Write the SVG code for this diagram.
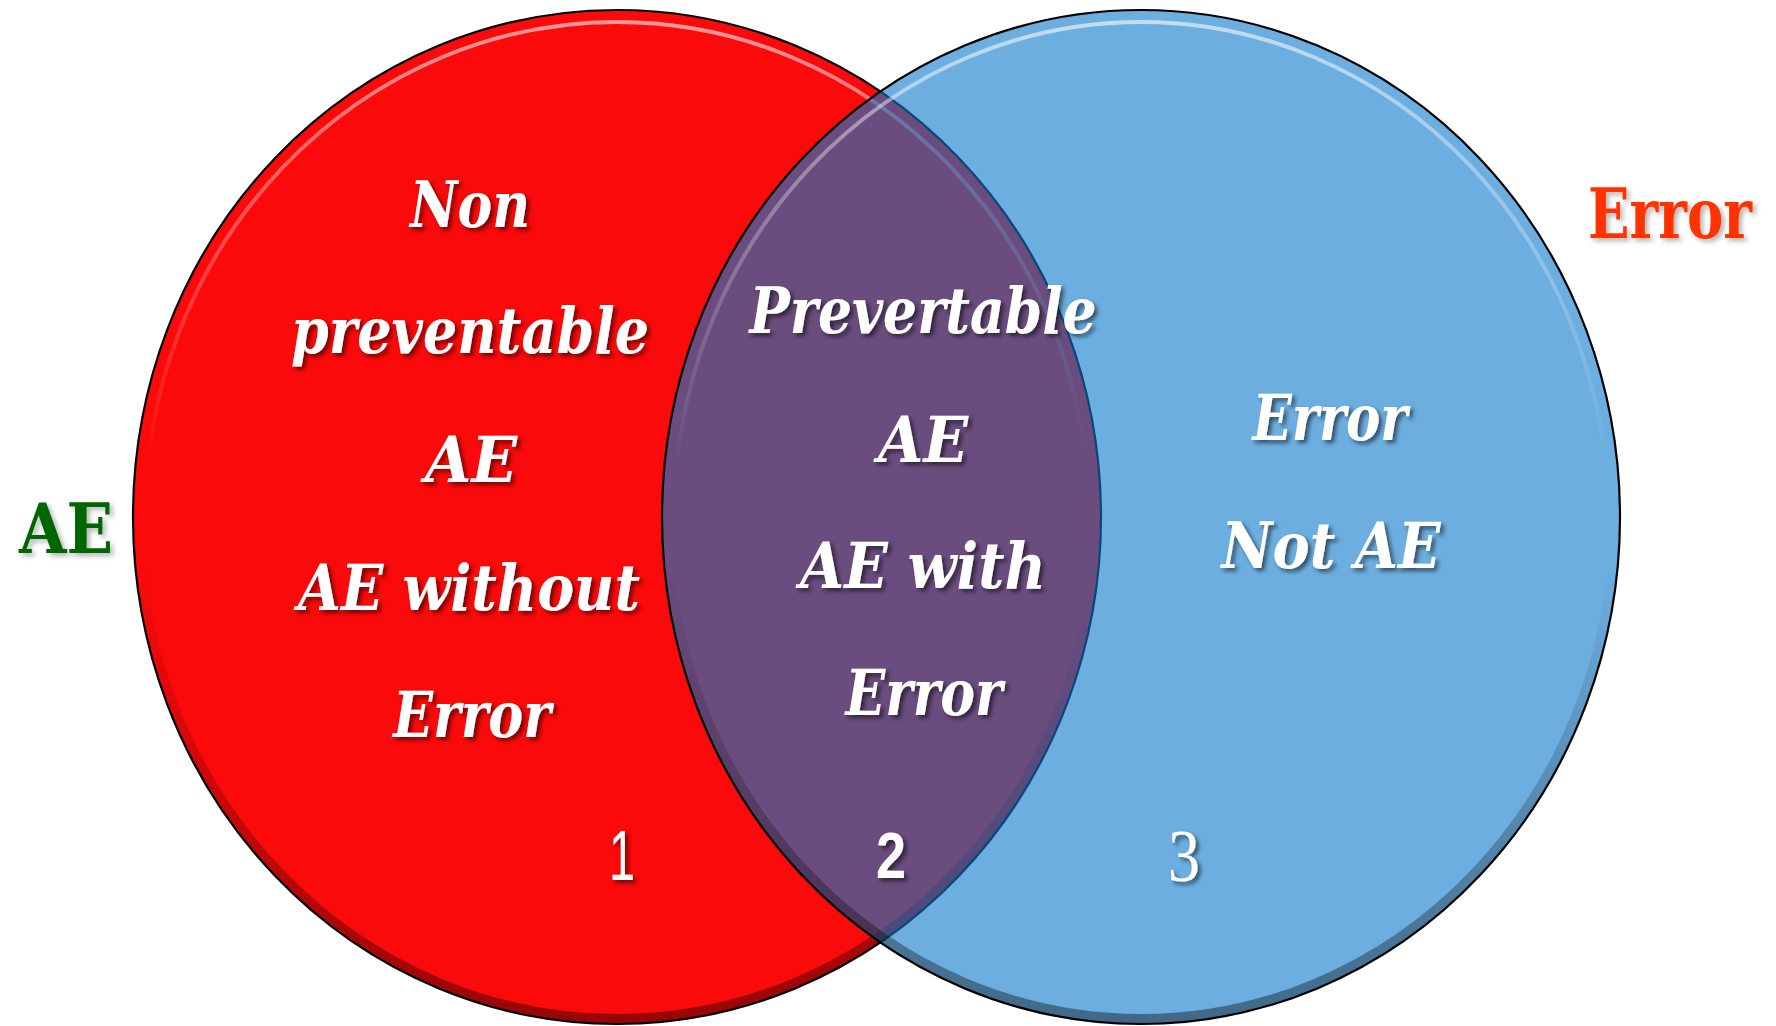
<svg xmlns="http://www.w3.org/2000/svg" width="1776" height="1026" viewBox="0 0 1776 1026">
  <defs>
    <!-- bevel highlight near the top rim of each set -->
    <linearGradient id="rimLight" gradientUnits="userSpaceOnUse" x1="0" y1="10" x2="0" y2="1022">
      <stop offset="0" stop-color="#ffffff" stop-opacity="0.6"/>
      <stop offset="0.15" stop-color="#ffffff" stop-opacity="0.35"/>
      <stop offset="0.45" stop-color="#ffffff" stop-opacity="0"/>
    </linearGradient>
    <!-- bevel shadow along the bottom rim -->
    <linearGradient id="rimShade" gradientUnits="userSpaceOnUse" x1="0" y1="10" x2="0" y2="1022">
      <stop offset="0.55" stop-color="#000000" stop-opacity="0"/>
      <stop offset="0.8" stop-color="#000000" stop-opacity="0.22"/>
      <stop offset="1" stop-color="#000000" stop-opacity="0.4"/>
    </linearGradient>
    <filter id="textShadow" x="-10%" y="-20%" width="130%" height="150%">
      <feDropShadow dx="3" dy="3" stdDeviation="2" flood-color="#000000" flood-opacity="0.55"/>
    </filter>
    <filter id="softShadow" x="-4%" y="-20%" width="110%" height="150%">
      <feDropShadow dx="3" dy="3" stdDeviation="2.5" flood-color="#000000" flood-opacity="0.3"/>
    </filter>
  </defs>
  <style>
    .rim { stroke: #000000; stroke-width: 2.2; fill: none; }
    .hl { fill: none; stroke: url(#rimLight); stroke-width: 4; }
    .sh { fill: none; stroke: url(#rimShade); stroke-width: 10; }
    .lbl { font-family: "DejaVu Serif", "Liberation Serif", serif; font-weight: bold; font-style: italic; font-stretch: condensed; font-size: 64px; fill: #ffffff; text-anchor: middle; filter: url(#textShadow); }
    .num { fill: #ffffff; text-anchor: middle; filter: url(#textShadow); }
    .set { font-family: "DejaVu Serif", "Liberation Serif", serif; font-weight: bold; font-stretch: condensed; filter: url(#softShadow); }
  </style>

  <rect width="1776" height="1026" fill="#ffffff"/>

  <!-- AE set -->
  <g id="set-ae">
    <ellipse cx="617" cy="517" rx="484" ry="507" fill="#fa0a0a"/>
    <ellipse class="hl" cx="617" cy="517" rx="472" ry="495"/>
    <ellipse class="sh" cx="617" cy="517" rx="479" ry="502"/>
    <ellipse class="rim" cx="617" cy="517" rx="484" ry="507"/>
  </g>

  <!-- Error set, translucent over the AE set -->
  <g id="set-error">
    <ellipse cx="1141" cy="517" rx="479" ry="507" fill="#0a78cb" fill-opacity="0.6"/>
    <ellipse class="hl" cx="1141" cy="517" rx="467" ry="495"/>
    <ellipse class="sh" cx="1141" cy="517" rx="474" ry="502"/>
    <ellipse class="rim" cx="1141" cy="517" rx="479" ry="507"/>
  </g>

  <!-- region 1: AE only -->
  <g id="region-1">
    <text class="lbl" x="470" y="227" textLength="120" lengthAdjust="spacingAndGlyphs">Non</text>
    <text class="lbl" x="470" y="353" textLength="358" lengthAdjust="spacingAndGlyphs">preventable</text>
    <text class="lbl" x="471" y="482" textLength="92" lengthAdjust="spacingAndGlyphs">AE</text>
    <text class="lbl" x="469" y="610" textLength="342" lengthAdjust="spacingAndGlyphs">AE without</text>
    <text class="lbl" x="472" y="737" textLength="158" lengthAdjust="spacingAndGlyphs">Error</text>
    <text class="num" x="622" y="880" font-family="Liberation Sans, sans-serif" font-size="70" textLength="26" lengthAdjust="spacingAndGlyphs">1</text>
  </g>

  <!-- region 2: AE with error -->
  <g id="region-2">
    <text class="lbl" x="923" y="333" textLength="347" lengthAdjust="spacingAndGlyphs">Prevertable</text>
    <text class="lbl" x="923" y="462" textLength="90" lengthAdjust="spacingAndGlyphs">AE</text>
    <text class="lbl" x="923" y="588" textLength="246" lengthAdjust="spacingAndGlyphs">AE with</text>
    <text class="lbl" x="924" y="715" textLength="157" lengthAdjust="spacingAndGlyphs">Error</text>
    <text class="num" x="891" y="878" font-family="Liberation Sans, sans-serif" font-weight="bold" font-size="64" textLength="30" lengthAdjust="spacingAndGlyphs">2</text>
  </g>

  <!-- region 3: error only -->
  <g id="region-3">
    <text class="lbl" x="1330" y="440" textLength="155" lengthAdjust="spacingAndGlyphs">Error</text>
    <text class="lbl" x="1331" y="568" textLength="219" lengthAdjust="spacingAndGlyphs">Not AE</text>
    <text class="num" x="1184" y="881" font-family="Liberation Serif, serif" font-size="74" textLength="32" lengthAdjust="spacingAndGlyphs">3</text>
  </g>

  <!-- set names -->
  <g id="label-ae">
    <text class="set" x="66" y="553" font-size="70" fill="#006600" text-anchor="middle" textLength="94" lengthAdjust="spacingAndGlyphs">AE</text>
  </g>
  <g id="label-error">
    <text class="set" x="1752" y="238" font-size="70" fill="#ff3300" text-anchor="end" textLength="164" lengthAdjust="spacingAndGlyphs">Error</text>
  </g>
</svg>
